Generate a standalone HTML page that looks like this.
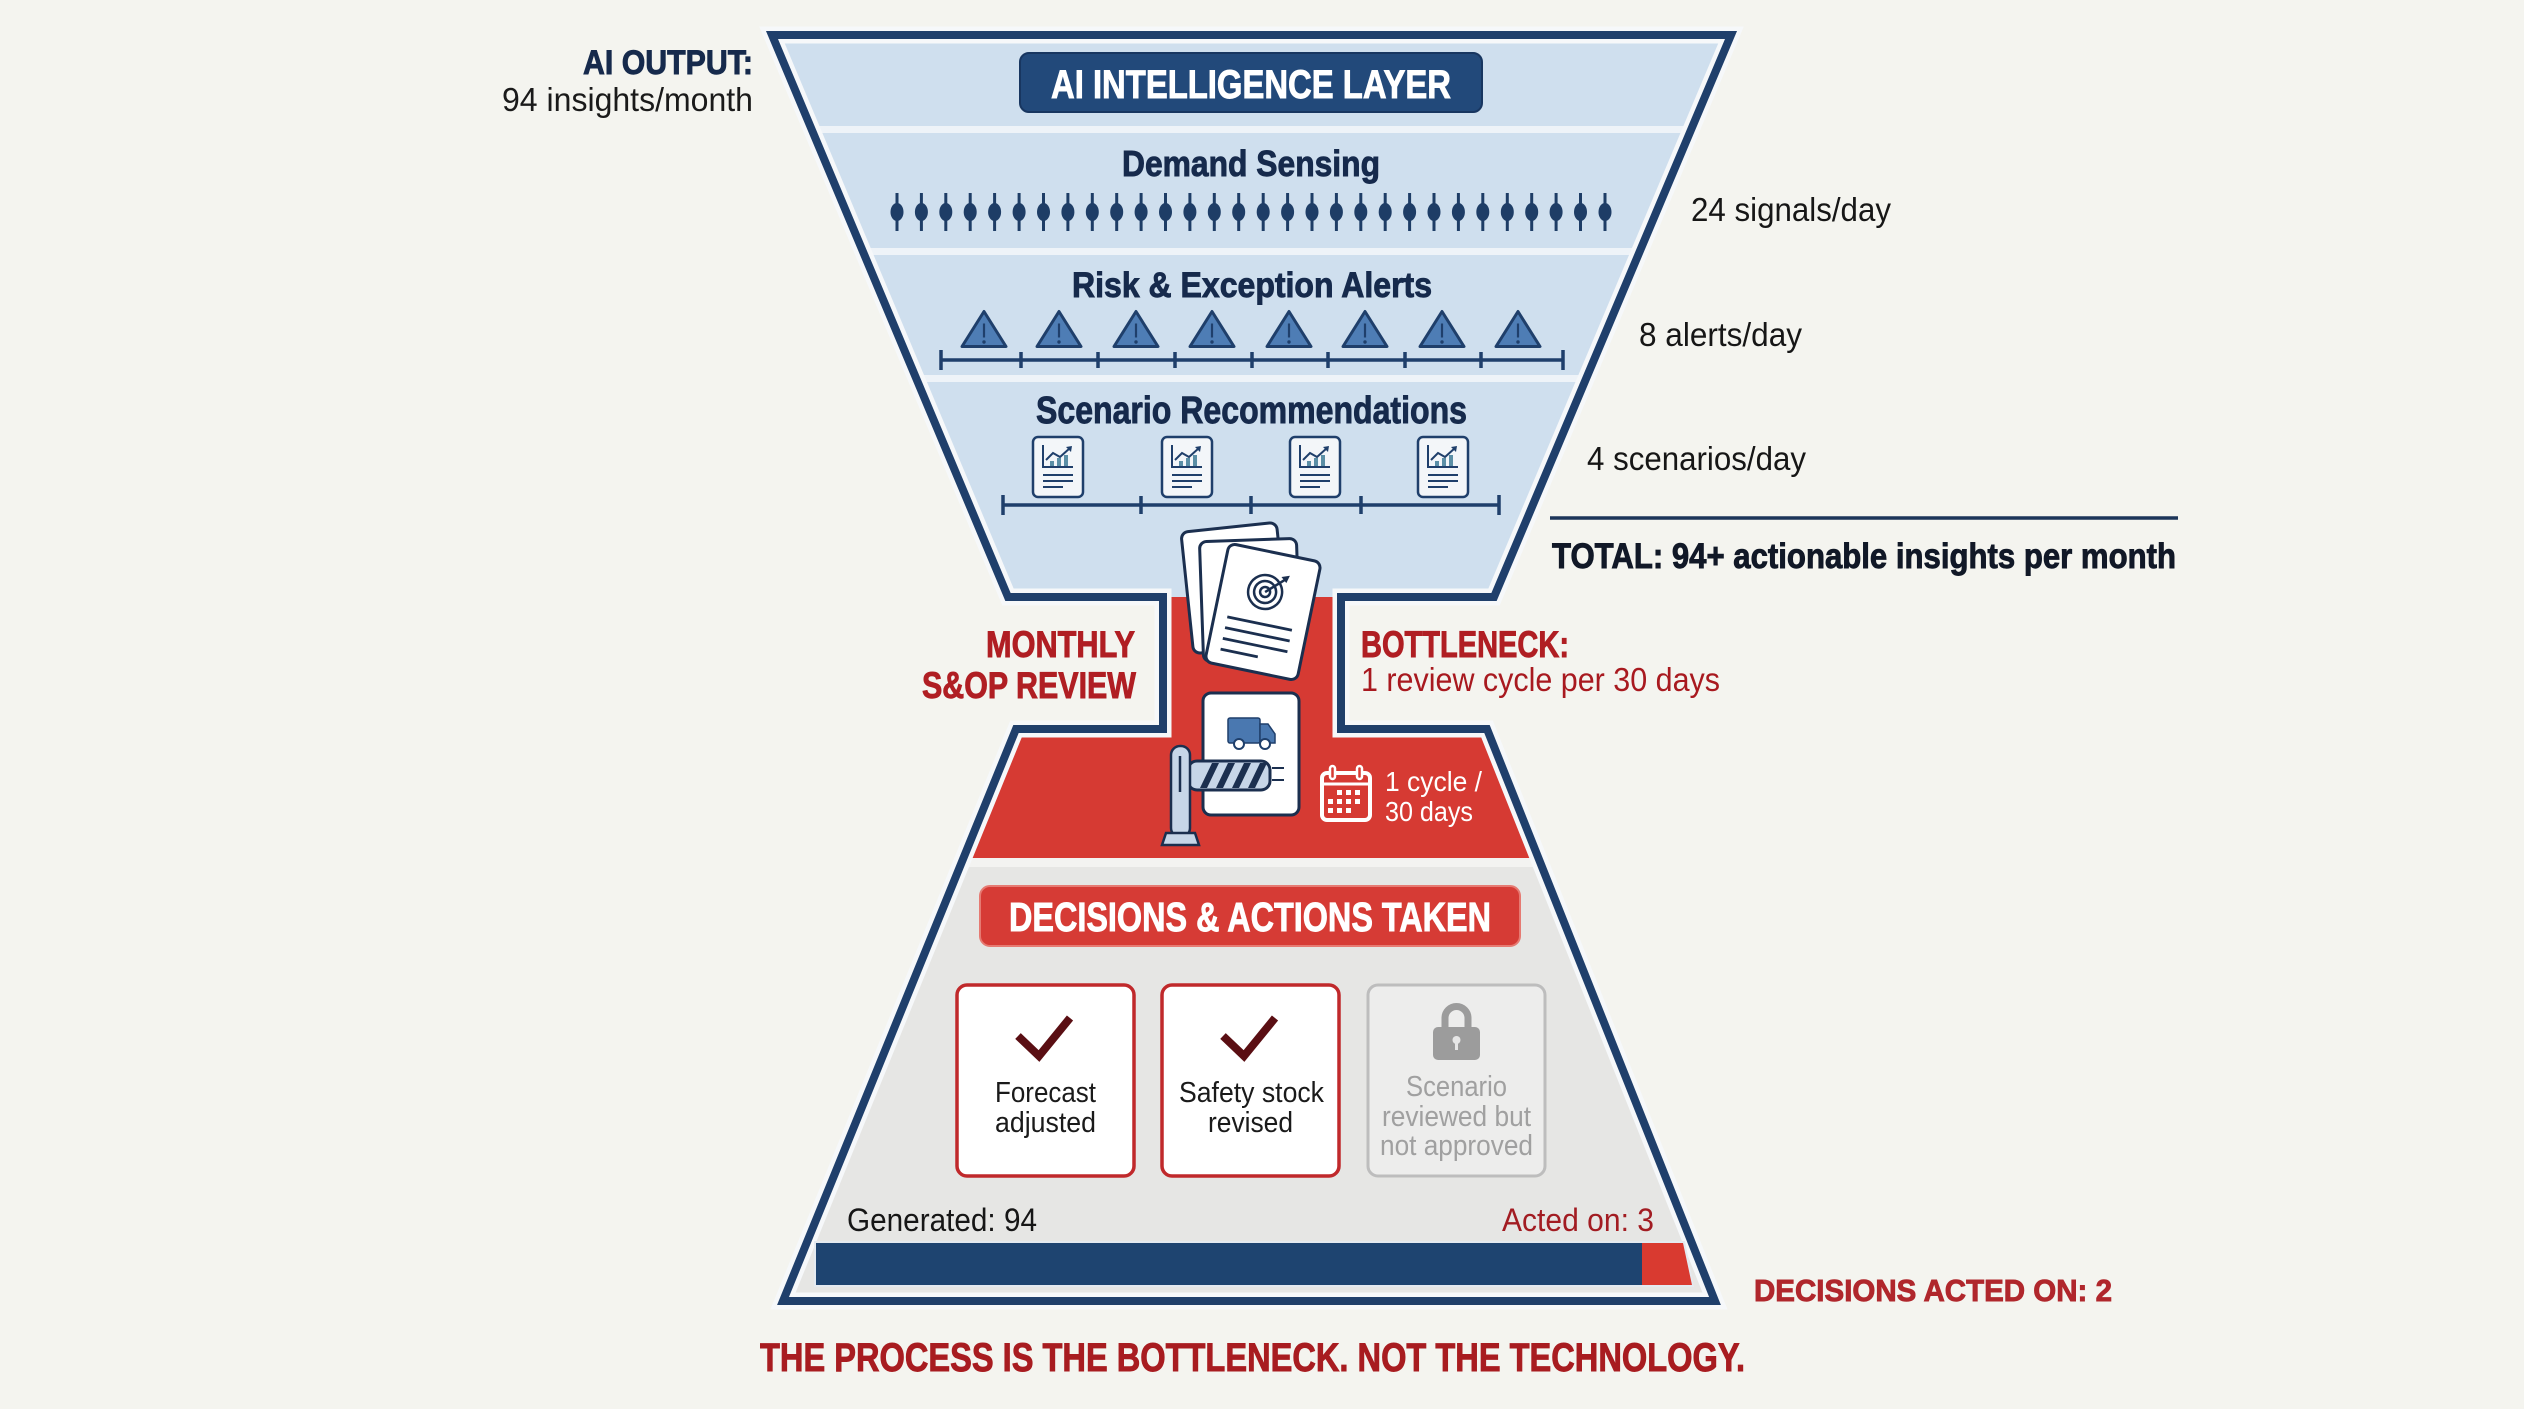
<!DOCTYPE html>
<html><head><meta charset="utf-8"><style>
html,body{margin:0;padding:0;background:#f4f4ef;}
svg{display:block}
text{font-family:"Liberation Sans Narrow","Liberation Sans",sans-serif;}
.b{stroke-width:0.9;}
</style></head><body>
<svg width="2524" height="1409" viewBox="0 0 2524 1409" xmlns="http://www.w3.org/2000/svg">
<defs>
  <clipPath id="hg"><polygon points="772,35 1731,35 1494,597 1341,597 1341,729 1487,729 1715,1301 783,1301 1016,729 1163,729 1163,597 1008,597"/></clipPath>
  <g id="pin"><line x1="0" y1="193" x2="0" y2="231" stroke="#1e3d66" stroke-width="3"/><ellipse cx="0" cy="212" rx="6.5" ry="9" fill="#1e3d66"/></g>
  <g id="tri"><path d="M0,-18 L22,17 L-22,17 Z" fill="#4e7db5" stroke="#1f3f6b" stroke-width="3" stroke-linejoin="round"/><line x1="0" y1="-6" x2="0" y2="8" stroke="#1f3f6b" stroke-width="2.2"/><circle cx="0" cy="12.5" r="1.7" fill="#1f3f6b"/></g>
  <g id="doc">
    <rect x="0" y="0" width="50" height="60" rx="5" fill="#f3f6f9" stroke="#1f3f6b" stroke-width="2.5"/>
    <rect x="17" y="24" width="4" height="5" fill="#5b8fa6"/><rect x="24" y="21" width="4" height="8" fill="#5b8fa6"/><rect x="31" y="18" width="4" height="11" fill="#5b8fa6"/>
    <path d="M10,8 V30 H40" fill="none" stroke="#1f3f6b" stroke-width="2"/>
    <polyline points="13,23 20,16 27,20 37,11" fill="none" stroke="#1f3f6b" stroke-width="2"/>
    <path d="M33,10 L39,9 L38,15 Z" fill="#1f3f6b"/>
    <line x1="10" y1="38" x2="40" y2="38" stroke="#1f3f6b" stroke-width="2"/>
    <line x1="10" y1="44" x2="40" y2="44" stroke="#1f3f6b" stroke-width="2"/>
    <line x1="10" y1="50" x2="30" y2="50" stroke="#1f3f6b" stroke-width="2"/>
  </g>
</defs>

<rect x="0" y="0" width="2524" height="1409" fill="#f4f4ef"/>

<!-- funnel fills -->
<g clip-path="url(#hg)">
  <rect x="0" y="0" width="2524" height="597" fill="#cfdfee"/>
  <rect x="0" y="597" width="2524" height="261" fill="#d63a33"/>
  <rect x="0" y="858" width="2524" height="9" fill="#f3f3f1"/>
  <rect x="0" y="867" width="2524" height="542" fill="#e6e6e4"/>
  <rect x="0" y="126" width="2524" height="7" fill="#eef3f8"/>
  <rect x="0" y="248" width="2524" height="7" fill="#eef3f8"/>
  <rect x="0" y="375" width="2524" height="7" fill="#eef3f8"/>
</g>
<polygon points="772,35 1731,35 1494,597 1341,597 1341,729 1487,729 1715,1301 783,1301 1016,729 1163,729 1163,597 1008,597" fill="none" stroke="#f6f8fa" stroke-width="17" stroke-linejoin="miter"/>
<polygon points="772,35 1731,35 1494,597 1341,597 1341,729 1487,729 1715,1301 783,1301 1016,729 1163,729 1163,597 1008,597" fill="none" stroke="#1f3f6b" stroke-width="8" stroke-linejoin="miter"/>

<!-- left label -->
<text class="b" stroke="#162a4c" x="583" y="74" font-size="34" font-weight="bold" fill="#162a4c" textLength="170" lengthAdjust="spacingAndGlyphs">AI OUTPUT:</text>
<text x="502" y="111" font-size="33" fill="#1a1a1a" textLength="251" lengthAdjust="spacingAndGlyphs">94 insights/month</text>

<!-- badge -->
<rect x="1020" y="53" width="462" height="59" rx="9" fill="#22497a" stroke="#183660" stroke-width="2"/>
<text class="b" stroke="#ffffff" x="1051" y="98" font-size="40" font-weight="bold" fill="#ffffff" textLength="400" lengthAdjust="spacingAndGlyphs">AI INTELLIGENCE LAYER</text>

<!-- Demand sensing -->
<text class="b" stroke="#162a4c" x="1122" y="176" font-size="36" font-weight="bold" fill="#162a4c" textLength="258" lengthAdjust="spacingAndGlyphs">Demand Sensing</text>
<use href="#pin" x="897"/><use href="#pin" x="921.4"/><use href="#pin" x="945.8"/><use href="#pin" x="970.2"/><use href="#pin" x="994.6"/>
<use href="#pin" x="1019.1"/><use href="#pin" x="1043.5"/><use href="#pin" x="1067.9"/><use href="#pin" x="1092.3"/><use href="#pin" x="1116.7"/>
<use href="#pin" x="1141.1"/><use href="#pin" x="1165.5"/><use href="#pin" x="1189.9"/><use href="#pin" x="1214.3"/><use href="#pin" x="1238.7"/>
<use href="#pin" x="1263.2"/><use href="#pin" x="1287.6"/><use href="#pin" x="1312"/><use href="#pin" x="1336.4"/><use href="#pin" x="1360.8"/>
<use href="#pin" x="1385.2"/><use href="#pin" x="1409.6"/><use href="#pin" x="1434"/><use href="#pin" x="1458.4"/><use href="#pin" x="1482.8"/>
<use href="#pin" x="1507.3"/><use href="#pin" x="1531.7"/><use href="#pin" x="1556.1"/><use href="#pin" x="1580.5"/><use href="#pin" x="1605"/>

<!-- Risk alerts -->
<text class="b" stroke="#162a4c" x="1072" y="297" font-size="35" font-weight="bold" fill="#162a4c" textLength="360" lengthAdjust="spacingAndGlyphs">Risk &amp; Exception Alerts</text>
<use href="#tri" x="984" y="329.5"/><use href="#tri" x="1059" y="329.5"/><use href="#tri" x="1136" y="329.5"/><use href="#tri" x="1212" y="329.5"/>
<use href="#tri" x="1289" y="329.5"/><use href="#tri" x="1365" y="329.5"/><use href="#tri" x="1442" y="329.5"/><use href="#tri" x="1518" y="329.5"/>
<g stroke="#1f3f6b" stroke-width="3.5">
  <line x1="941" y1="360" x2="1563" y2="360"/>
  <line x1="941" y1="350" x2="941" y2="370"/><line x1="1021" y1="352" x2="1021" y2="368"/><line x1="1098" y1="352" x2="1098" y2="368"/>
  <line x1="1175" y1="352" x2="1175" y2="368"/><line x1="1252" y1="352" x2="1252" y2="368"/><line x1="1328" y1="352" x2="1328" y2="368"/>
  <line x1="1405" y1="352" x2="1405" y2="368"/><line x1="1481" y1="352" x2="1481" y2="368"/><line x1="1563" y1="350" x2="1563" y2="370"/>
</g>

<!-- Scenario -->
<text class="b" stroke="#162a4c" x="1036" y="423" font-size="38" font-weight="bold" fill="#162a4c" textLength="431" lengthAdjust="spacingAndGlyphs">Scenario Recommendations</text>
<use href="#doc" x="1033" y="437"/><use href="#doc" x="1162" y="437"/><use href="#doc" x="1290" y="437"/><use href="#doc" x="1418" y="437"/>
<g stroke="#1f3f6b" stroke-width="3.5">
  <line x1="1003" y1="505" x2="1499" y2="505"/>
  <line x1="1003" y1="495" x2="1003" y2="515"/><line x1="1141" y1="496" x2="1141" y2="514"/><line x1="1251" y1="496" x2="1251" y2="514"/>
  <line x1="1361" y1="496" x2="1361" y2="514"/><line x1="1499" y1="495" x2="1499" y2="515"/>
</g>

<!-- right labels -->
<text x="1691" y="221" font-size="33" fill="#161616" textLength="200" lengthAdjust="spacingAndGlyphs">24 signals/day</text>
<text x="1639" y="346" font-size="33" fill="#161616" textLength="163" lengthAdjust="spacingAndGlyphs">8 alerts/day</text>
<text x="1587" y="470" font-size="33" fill="#161616" textLength="219" lengthAdjust="spacingAndGlyphs">4 scenarios/day</text>
<line x1="1550" y1="518" x2="2178" y2="518" stroke="#1c3559" stroke-width="3.5"/>
<text class="b" stroke="#111827" x="1552" y="568" font-size="35" font-weight="bold" fill="#111827" textLength="624" lengthAdjust="spacingAndGlyphs">TOTAL: 94+ actionable insights per month</text>

<!-- bottleneck labels -->
<text class="b" stroke="#b01e23" x="986" y="657" font-size="37" font-weight="bold" fill="#b01e23" textLength="149" lengthAdjust="spacingAndGlyphs">MONTHLY</text>
<text class="b" stroke="#b01e23" x="922" y="698" font-size="37" font-weight="bold" fill="#b01e23" textLength="214" lengthAdjust="spacingAndGlyphs">S&amp;OP REVIEW</text>
<text class="b" stroke="#b01e23" x="1361" y="657" font-size="37" font-weight="bold" fill="#b01e23" textLength="208" lengthAdjust="spacingAndGlyphs">BOTTLENECK:</text>
<text x="1361" y="691" font-size="33" fill="#a8191f" textLength="359" lengthAdjust="spacingAndGlyphs">1 review cycle per 30 days</text>

<!-- card stack -->
<g transform="translate(1235,588) rotate(-6)"><rect x="-48" y="-61" width="96" height="122" rx="7" fill="#ffffff" stroke="#1b2f4f" stroke-width="3"/></g>
<g transform="translate(1250,600) rotate(-2)"><rect x="-48.5" y="-60" width="97" height="120" rx="7" fill="#ffffff" stroke="#1b2f4f" stroke-width="3"/></g>
<g transform="translate(1263,612) rotate(11.7)">
  <rect x="-47" y="-60.5" width="94" height="121" rx="7" fill="#ffffff" stroke="#1b2f4f" stroke-width="3"/>
  <g fill="none" stroke="#1b2f4f" stroke-width="2.5">
    <circle cx="-2" cy="-20" r="17"/><circle cx="-2" cy="-20" r="11"/><circle cx="-2" cy="-20" r="5"/>
    <line x1="-2" y1="-20" x2="15" y2="-36"/>
  </g>
  <path d="M11,-38 L19,-41 L17,-33 Z" fill="#1b2f4f"/>
  <g stroke="#1b2f4f" stroke-width="2.8">
    <line x1="-34" y1="12" x2="32" y2="12"/><line x1="-34" y1="23" x2="32" y2="23"/>
    <line x1="-34" y1="34" x2="32" y2="34"/><line x1="-34" y1="45" x2="4" y2="45"/>
  </g>
</g>

<!-- truck card -->
<rect x="1203" y="693" width="96" height="122" rx="8" fill="#ffffff" stroke="#1b2f4f" stroke-width="3"/>
<rect x="1228" y="718" width="32" height="25" rx="2" fill="#4a78b0" stroke="#1f3f6b" stroke-width="1.5"/>
<path d="M1260,724 H1268 L1275,734 V743 H1260 Z" fill="#4a78b0" stroke="#1f3f6b" stroke-width="1.5"/>
<circle cx="1239" cy="744" r="5" fill="#ffffff" stroke="#1f3f6b" stroke-width="2"/>
<circle cx="1265" cy="744" r="5" fill="#ffffff" stroke="#1f3f6b" stroke-width="2"/>
<!-- barrier -->
<rect x="1188" y="761" width="82" height="29" rx="9" fill="#c7d6e8" stroke="#1b2f4f" stroke-width="3"/>
<g fill="#1b2f4f">
  <polygon points="1200,788 1207,788 1219,763 1212,763"/>
  <polygon points="1216,788 1223,788 1235,763 1228,763"/>
  <polygon points="1232,788 1239,788 1251,763 1244,763"/>
  <polygon points="1248,788 1255,788 1267,763 1260,763"/>
</g>
<line x1="1272" y1="768" x2="1284" y2="768" stroke="#1b2f4f" stroke-width="2"/>
<line x1="1272" y1="780" x2="1284" y2="780" stroke="#1b2f4f" stroke-width="2"/>
<rect x="1171" y="746" width="19" height="91" rx="9" fill="#c7d6e8" stroke="#1b2f4f" stroke-width="2.5"/>
<line x1="1180" y1="756" x2="1180" y2="792" stroke="#1b2f4f" stroke-width="2.5"/>
<path d="M1166,833 H1195 L1199,845 H1162 Z" fill="#c7d6e8" stroke="#1b2f4f" stroke-width="2.5"/>

<!-- calendar -->
<rect x="1322" y="773" width="48" height="47" rx="5" fill="none" stroke="#ffffff" stroke-width="4"/>
<line x1="1322" y1="784" x2="1370" y2="784" stroke="#ffffff" stroke-width="3"/>
<rect x="1330" y="766" width="5" height="13" rx="2.5" fill="#d63a33" stroke="#ffffff" stroke-width="2.5"/>
<rect x="1357" y="766" width="5" height="13" rx="2.5" fill="#d63a33" stroke="#ffffff" stroke-width="2.5"/>
<g fill="#ffffff">
  <rect x="1337" y="790" width="5" height="5"/><rect x="1346" y="790" width="5" height="5"/><rect x="1355" y="790" width="5" height="5"/>
  <rect x="1328" y="799" width="5" height="5"/><rect x="1337" y="799" width="5" height="5"/><rect x="1346" y="799" width="5" height="5"/><rect x="1355" y="799" width="5" height="5"/>
  <rect x="1328" y="808" width="5" height="5"/><rect x="1337" y="808" width="5" height="5"/><rect x="1346" y="808" width="5" height="5"/>
</g>
<text x="1385" y="791" font-size="28" fill="#ffffff" textLength="97" lengthAdjust="spacingAndGlyphs">1 cycle /</text>
<text x="1385" y="821" font-size="28" fill="#ffffff" textLength="88" lengthAdjust="spacingAndGlyphs">30 days</text>

<!-- decisions badge -->
<rect x="980" y="886" width="540" height="60" rx="10" fill="#d63b35" stroke="#e67a72" stroke-width="2"/>
<text class="b" stroke="#ffffff" x="1009" y="931" font-size="41" font-weight="bold" fill="#ffffff" textLength="482" lengthAdjust="spacingAndGlyphs">DECISIONS &amp; ACTIONS TAKEN</text>

<!-- cards -->
<rect x="957" y="985" width="177" height="191" rx="10" fill="#ffffff" stroke="#c0292b" stroke-width="3.5"/>
<rect x="1162" y="985" width="177" height="191" rx="10" fill="#ffffff" stroke="#c0292b" stroke-width="3.5"/>
<rect x="1368" y="985" width="177" height="191" rx="10" fill="#ededec" stroke="#bdbdbd" stroke-width="3"/>
<polyline points="1018,1036 1039,1056 1070,1018" fill="none" stroke="#5a0e13" stroke-width="8" stroke-linejoin="miter" stroke-linecap="butt"/>
<polyline points="1223,1036 1244,1056 1275,1018" fill="none" stroke="#5a0e13" stroke-width="8" stroke-linejoin="miter" stroke-linecap="butt"/>
<path d="M1445,1030 V1018 a11.5,11.5 0 0 1 23,0 V1030" fill="none" stroke="#9c9c9c" stroke-width="7"/>
<rect x="1433" y="1027" width="47" height="33" rx="5" fill="#9c9c9c"/>
<circle cx="1456.5" cy="1040" r="4" fill="#e6e6e6"/><rect x="1455" y="1041" width="3" height="9" fill="#e6e6e6"/>
<text x="995" y="1102" font-size="29" fill="#1a1a1a" textLength="101" lengthAdjust="spacingAndGlyphs">Forecast</text>
<text x="995" y="1132" font-size="29" fill="#1a1a1a" textLength="101" lengthAdjust="spacingAndGlyphs">adjusted</text>
<text x="1179" y="1102" font-size="29" fill="#1a1a1a" textLength="145" lengthAdjust="spacingAndGlyphs">Safety stock</text>
<text x="1208" y="1132" font-size="29" fill="#1a1a1a" textLength="85" lengthAdjust="spacingAndGlyphs">revised</text>
<text x="1406" y="1096" font-size="29" fill="#a0a0a0" textLength="101" lengthAdjust="spacingAndGlyphs">Scenario</text>
<text x="1382" y="1126" font-size="29" fill="#a0a0a0" textLength="149" lengthAdjust="spacingAndGlyphs">reviewed but</text>
<text x="1380" y="1155" font-size="29" fill="#a0a0a0" textLength="153" lengthAdjust="spacingAndGlyphs">not approved</text>

<!-- generated / acted -->
<text x="847" y="1231" font-size="32" fill="#161616" textLength="190" lengthAdjust="spacingAndGlyphs">Generated: 94</text>
<text x="1502" y="1231" font-size="32" fill="#a21c22" textLength="152" lengthAdjust="spacingAndGlyphs">Acted on: 3</text>
<polygon points="814,1241 1685,1241 1694,1287 814,1287" fill="#e4eaf0"/>
<rect x="816" y="1243" width="827" height="42" fill="#1e4470"/>
<polygon points="1642,1243 1683,1243 1692,1285 1642,1285" fill="#d93a30"/>

<text class="b" stroke="#b0272c" x="1754" y="1301" font-size="31" font-weight="bold" fill="#b0272c" textLength="358" lengthAdjust="spacingAndGlyphs">DECISIONS ACTED ON: 2</text>
<text class="b" stroke="#a81c20" x="760" y="1371" font-size="40" font-weight="bold" fill="#a81c20" textLength="985" lengthAdjust="spacingAndGlyphs">THE PROCESS IS THE BOTTLENECK. NOT THE TECHNOLOGY.</text>
</svg>
</body></html>
